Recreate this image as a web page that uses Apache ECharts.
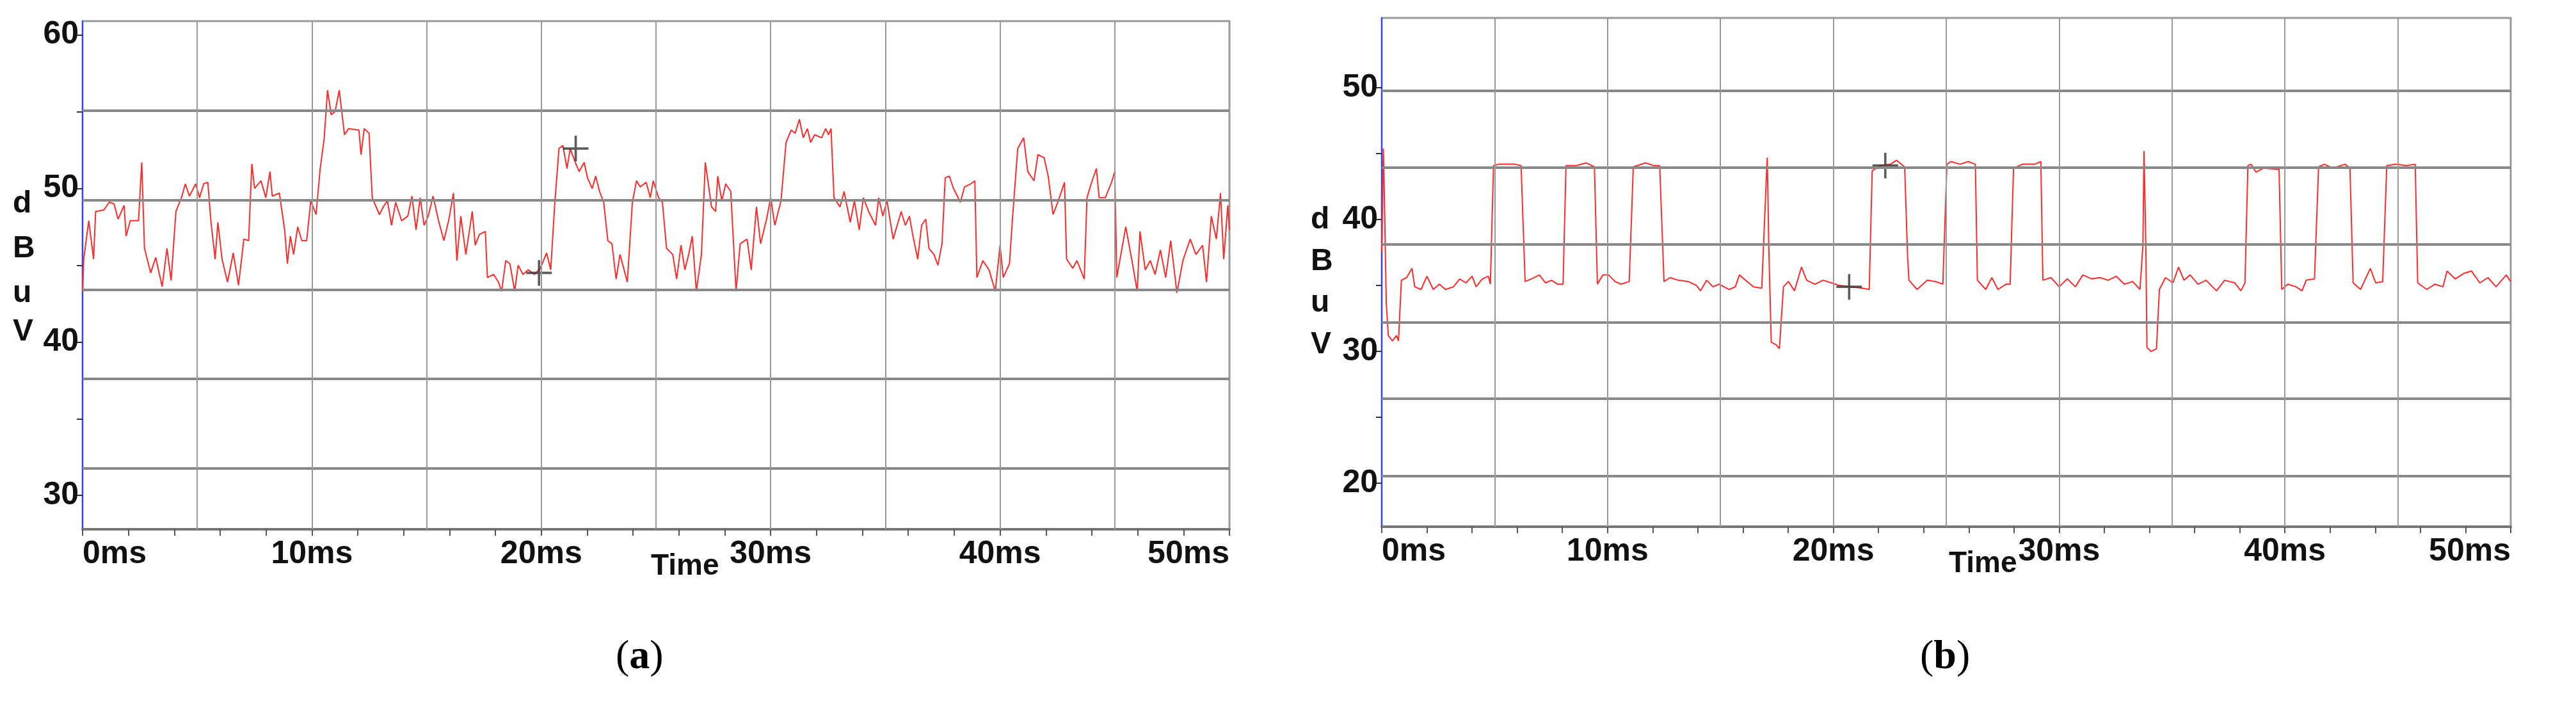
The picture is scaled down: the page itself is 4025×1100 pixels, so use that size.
<!DOCTYPE html>
<html>
<head>
<meta charset="utf-8">
<script src="https://cdn.jsdelivr.net/npm/echarts@6/dist/echarts.min.js"></script>
<style>
  html, body { margin: 0; padding: 0; background: #fff; }
  #chart { width: 4025px; height: 1100px; }
</style>
</head>
<body>
<div id="chart"></div>
<script>
// panel (a): time in ms, level in dBuV
var timeA = [0,0.05,0.27,0.48,0.57,0.93,1.16,1.37,1.55,1.81,1.9,2.08,2.44,2.58,2.7,2.97,3.19,3.47,3.68,3.86,4.07,4.31,4.48,4.66,4.93,5.1,5.28,5.46,5.6,5.78,5.9,6.08,6.32,6.57,6.8,7.03,7.24,7.38,7.5,7.78,7.99,8.17,8.27,8.58,8.81,8.93,9.06,9.2,9.38,9.56,9.77,9.95,10.18,10.36,10.53,10.68,10.84,11.01,11.19,11.42,11.6,12.05,12.14,12.28,12.49,12.63,12.94,13.11,13.29,13.47,13.65,13.91,14.18,14.36,14.54,14.72,14.89,15.07,15.28,15.52,15.75,15.96,16.17,16.32,16.49,16.71,16.99,17.12,17.3,17.56,17.65,17.92,18.13,18.27,18.45,18.63,18.84,18.99,19.2,19.43,19.7,19.96,20.23,20.41,20.59,20.77,20.94,21.12,21.26,21.48,21.65,21.87,22.01,22.22,22.37,22.54,22.72,22.9,23.08,23.26,23.43,23.75,23.97,24.15,24.31,24.57,24.75,24.88,25.11,25.28,25.46,25.73,25.9,26.09,26.26,26.44,26.58,26.76,26.98,27.15,27.42,27.6,27.69,27.87,28.04,28.26,28.49,28.67,28.97,29.15,29.38,29.56,29.82,30.0,30.18,30.45,30.67,30.89,31.07,31.25,31.42,31.6,31.74,31.92,32.22,32.4,32.52,32.63,32.76,33.02,33.2,33.47,33.65,33.86,34.04,34.27,34.57,34.71,34.89,35.07,35.34,35.69,35.87,36.05,36.19,36.41,36.58,36.76,36.9,37.12,37.29,37.47,37.61,37.79,37.97,38.27,38.45,38.72,38.9,38.99,39.25,39.52,39.79,40.0,40.14,40.41,40.53,40.77,41.03,41.21,41.48,41.65,41.92,42.1,42.31,42.54,42.81,42.9,43.17,43.35,43.67,43.79,43.97,44.2,44.32,44.59,44.86,45.0,45.09,45.48,45.75,45.98,46.1,46.33,46.55,46.76,46.99,47.22,47.44,47.71,47.97,48.29,48.54,48.83,49.0,49.21,49.43,49.61,49.75,49.93,50.0];
var levelA = [43.3,45.4,47.9,45.4,48.5,48.6,49.1,49.0,48.0,48.9,46.9,47.9,47.9,51.7,46.1,44.5,45.5,43.6,46.1,44.0,48.5,49.4,50.3,49.5,50.3,49.4,50.3,50.4,47.8,45.4,47.8,45.4,43.9,45.8,43.7,46.7,46.6,51.6,50.0,50.5,49.4,51.1,49.5,49.7,47.3,45.1,46.9,45.7,47.5,46.6,46.6,49.2,48.3,51.3,53.2,56.4,54.8,55.0,56.4,53.5,53.9,53.8,52.2,53.9,53.6,49.4,48.3,48.8,49.2,47.6,49.1,47.9,48.2,49.5,47.3,49.4,47.6,48.2,49.5,47.9,46.6,47.9,49.7,45.3,48.2,45.7,48.5,46.3,47.0,47.2,44.2,44.4,43.9,43.3,45.3,45.1,43.3,45.0,44.4,44.7,44.4,44.8,45.8,44.7,49.1,52.6,52.8,51.3,52.6,51.7,51.1,51.7,50.7,50.0,50.8,49.8,49.1,46.6,46.4,44.1,45.7,43.9,49.1,50.5,50.1,50.4,49.4,50.5,49.4,49.1,46.1,45.7,44.1,46.3,44.7,45.8,46.9,43.3,45.7,51.7,48.8,48.5,50.8,49.2,50.3,49.8,43.3,46.4,46.7,44.7,48.8,46.4,48.0,49.4,47.6,49.2,53.0,53.8,53.6,54.5,53.3,53.9,53.0,53.5,53.3,53.9,53.5,53.9,49.4,48.8,49.8,47.8,49.2,47.3,49.4,48.5,47.6,49.4,48.2,49.2,46.7,48.5,47.6,48.2,47.0,45.4,47.6,48.0,46.1,45.7,45.0,46.4,50.7,50.8,50.0,49.1,50.1,50.3,50.5,44.2,45.3,44.7,43.3,46.3,44.2,45.1,47.8,52.6,53.3,51.1,50.5,52.2,52.0,50.8,48.3,49.2,50.4,45.4,44.8,45.3,44.1,49.4,50.3,51.3,49.4,49.4,50.4,51.1,44.2,47.5,45.3,43.3,47.2,44.7,45.3,44.4,46.0,44.2,46.6,43.2,45.3,46.7,45.7,46.3,43.9,48.2,46.7,49.7,45.4,48.9,47.3];

// panel (b)
var timeB = [0,0.07,0.1,0.2,0.29,0.47,0.65,0.74,0.87,1.1,1.34,1.46,1.74,2.0,2.28,2.55,2.82,3.18,3.45,3.73,4.0,4.18,4.45,4.72,4.81,4.95,5.17,5.53,5.9,6.17,6.35,6.62,6.98,7.25,7.52,7.79,8.03,8.16,8.61,9.06,9.42,9.55,9.79,10.05,10.33,10.6,10.96,11.14,11.68,12.04,12.31,12.5,12.77,13.13,13.58,13.94,14.12,14.39,14.67,14.94,15.39,15.66,15.84,16.11,16.47,16.83,17.07,17.1,17.14,17.25,17.47,17.61,17.79,18.01,18.28,18.59,18.82,19.18,19.55,19.91,20.27,20.81,21.27,21.59,21.72,22.08,22.53,22.8,23.16,23.29,23.35,23.71,24.16,24.52,24.85,25.03,25.21,25.61,25.97,26.29,26.38,26.75,27.02,27.29,27.65,27.83,27.98,28.37,28.92,29.19,29.28,29.64,30.0,30.36,30.72,31.05,31.45,31.81,32.17,32.53,32.89,33.26,33.58,33.71,33.76,33.84,33.89,34.07,34.31,34.44,34.71,35.04,35.29,35.53,35.8,36.15,36.51,36.97,37.33,37.78,38.05,38.23,38.36,38.5,38.72,39.05,39.74,39.86,40.13,40.49,40.76,40.94,41.31,41.49,41.75,42.12,42.66,42.88,43.02,43.35,43.78,44.02,44.33,44.51,44.92,45.38,45.77,45.88,46.28,46.64,47.0,47.18,47.54,47.9,48.26,48.63,48.99,49.35,49.8,50.0];
var levelB = [37.5,45.4,43.1,33.7,31.2,30.8,31.2,30.8,35.4,35.6,36.3,34.9,34.7,35.7,34.7,35.1,34.7,34.9,35.5,35.2,35.7,34.9,35.5,35.7,35.1,44.1,44.2,44.2,44.2,44.1,35.3,35.5,35.8,35.2,35.4,35.1,35.1,44.1,44.1,44.3,44.0,35.1,35.8,35.8,35.3,35.1,35.3,44.0,44.3,44.1,44.1,35.3,35.6,35.4,35.3,35.0,34.6,35.4,34.9,35.1,34.7,34.9,35.8,35.4,34.9,34.8,44.7,42.2,38.0,30.7,30.5,30.2,34.9,35.3,34.6,36.4,35.4,35.1,35.4,35.2,35.0,34.9,34.8,34.7,43.7,44.1,44.2,44.5,44.0,37.1,35.4,34.7,35.4,35.3,35.1,44.2,44.4,44.2,44.4,44.2,35.4,34.7,35.6,34.7,35.1,35.1,43.9,44.2,44.2,44.4,35.4,35.6,34.9,35.5,34.9,35.8,35.5,35.6,35.4,35.7,35.1,35.3,34.7,38.0,45.2,38.0,30.3,30.0,30.2,34.7,35.6,35.2,36.4,35.4,35.8,35.1,35.4,34.6,35.4,35.2,34.6,35.2,44.1,44.2,43.6,43.9,43.8,34.7,35.1,34.9,34.6,35.4,35.5,44.0,44.2,43.9,44.2,43.9,35.2,34.7,36.3,35.2,35.3,44.1,44.2,44.1,44.2,35.2,34.7,35.1,34.9,36.1,35.5,35.9,36.1,35.2,35.6,34.9,35.8,35.3];

// cursor markers [ms, dBuV]
var markersA = [[19.9, 44.5], [21.5, 52.6]];
var markersB = [[20.7, 34.9], [22.3, 44.1]];

// horizontal reference lines of each screen (not on the labelled ticks)
var gridLinesA = [55.06, 49.25, 43.39, 37.6, 31.75];
var gridLinesB = [49.76, 43.93, 38.1, 32.2, 26.4, 20.56];
var timeGridLines = [5, 10, 15, 20, 25, 30, 35, 40, 45];
var yTicksA = [30, 35, 40, 45, 50, 55, 60];
var yLabelsA = [30, 40, 50, 60];
var yTicksB = [20, 25, 30, 35, 40, 45, 50];
var yLabelsB = [20, 30, 40, 50];
var xTicks = [0,2,4,6,8,10,12,14,16,18,20,22,24,26,28,30,32,34,36,38,40,42,44,46,48,50];
var xLabels = [0, 10, 20, 30, 40, 50];

var FONT = '"Liberation Sans Narrow", "Liberation Sans", Arial, sans-serif';

function zip(xs, ys) {
  return xs.map(function (x, i) { return [x, ys[i]]; });
}

function xAxisFor(idx) {
  return {
    type: 'value', gridIndex: idx, min: 0, max: 50,
    axisLine: { lineStyle: { color: '#777', width: 4 } },
    axisTick: { show: true, customValues: xTicks, length: 10, lineStyle: { color: '#555', width: 2 } },
    axisLabel: {
      customValues: xLabels, color: '#111', fontFamily: FONT, fontWeight: 'bold', fontSize: 50,
      margin: 14, formatter: function (v) { return v + 'ms'; },
      alignMinLabel: 'left', alignMaxLabel: 'right'
    },
    splitLine: { show: false }
  };
}

function yAxisFor(idx, min, max, ticks, labels) {
  return {
    type: 'value', gridIndex: idx, min: min, max: max,
    axisLine: { show: true, lineStyle: { color: '#3344ff', width: 2 } },
    axisTick: { show: true, customValues: ticks, length: 9, lineStyle: { color: '#333', width: 2 } },
    axisLabel: { customValues: labels, color: '#111', fontFamily: FONT, fontWeight: 'bold', fontSize: 50, margin: 6 },
    splitLine: { show: false }
  };
}

var crossSymbol = 'path://M10,0 L12,0 L12,10 L22,10 L22,12 L12,12 L12,22 L10,22 L10,12 L0,12 L0,10 L10,10 Z';

function traceSeries(idx, data, lines) {
  var ml = lines.map(function (v) { return { yAxis: v }; }).concat(
    timeGridLines.map(function (t) { return { xAxis: t, lineStyle: { color: '#999', width: 2 } }; })
  );
  return {
    type: 'line', xAxisIndex: idx, yAxisIndex: idx, data: data,
    showSymbol: false, silent: true,
    lineStyle: { color: '#ff2a2a', width: 2 },
    markLine: {
      silent: true, symbol: 'none', label: { show: false }, animation: false,
      lineStyle: { color: '#888', width: 4, type: 'solid' },
      data: ml
    },
    z: 3
  };
}

function markerSeries(idx, data) {
  return {
    type: 'scatter', xAxisIndex: idx, yAxisIndex: idx, data: data,
    symbol: crossSymbol, symbolSize: 40, itemStyle: { color: '#333' }, z: 4
  };
}

function letters(x, ys) {
  return ['d', 'B', 'u', 'V'].map(function (c, i) {
    return { type: 'text', left: x, top: ys[i], style: { text: c, font: 'bold 48px ' + FONT, fill: '#111' } };
  });
}

var chart = echarts.init(document.getElementById('chart'));
chart.setOption({
  backgroundColor: '#fff',
  animation: false,
  grid: [
    { left: 129, top: 33, width: 1792, height: 794, show: true, borderColor: '#999', borderWidth: 3, backgroundColor: 'transparent' },
    { left: 2159, top: 28, width: 1764, height: 795, show: true, borderColor: '#999', borderWidth: 3, backgroundColor: 'transparent' }
  ],
  xAxis: [xAxisFor(0), xAxisFor(1)],
  yAxis: [
    yAxisFor(0, 27.8, 60.9, yTicksA, yLabelsA),
    yAxisFor(1, 16.7, 55.3, yTicksB, yLabelsB)
  ],
  series: [
    traceSeries(0, zip(timeA, levelA), gridLinesA),
    traceSeries(1, zip(timeB, levelB), gridLinesB),
    markerSeries(0, markersA),
    markerSeries(1, markersB)
  ],
  graphic: [].concat(
    letters(20, [295, 365, 435, 495]),
    letters(2048, [320, 385, 450, 515]),
    [
      { type: 'text', left: 1017, top: 862, style: { text: 'Time', font: 'bold 46px ' + FONT, fill: '#111' } },
      { type: 'text', left: 3045, top: 858, style: { text: 'Time', font: 'bold 46px ' + FONT, fill: '#111' } },
      { type: 'text', left: 962, top: 995, style: { rich: { p: { font: '64px "Liberation Serif", serif', fill: '#000' }, b: { font: 'bold 64px "Liberation Serif", serif', fill: '#000' } }, text: '{p|(}{b|a}{p|)}' } },
      { type: 'text', left: 3000, top: 995, style: { rich: { p: { font: '64px "Liberation Serif", serif', fill: '#000' }, b: { font: 'bold 64px "Liberation Serif", serif', fill: '#000' } }, text: '{p|(}{b|b}{p|)}' } }
    ]
  )
});
</script>
</body>
</html>
